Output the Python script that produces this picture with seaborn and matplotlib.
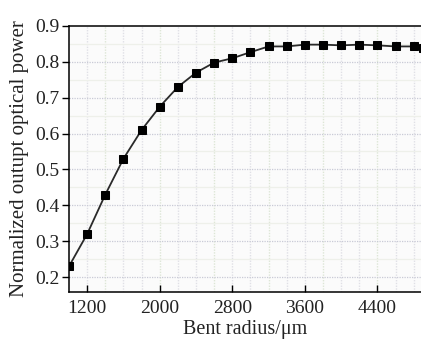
import matplotlib
matplotlib.use("Agg")
import matplotlib.pyplot as plt
import seaborn as sns
import numpy as np
import pandas as pd

radius = [1000, 1200, 1400, 1600, 1800, 2000, 2200, 2400, 2600, 2800, 3000,
          3200, 3400, 3600, 3800, 4000, 4200, 4400, 4600, 4800, 4900]
power = [0.23, 0.32, 0.43, 0.53, 0.61, 0.675, 0.73, 0.77, 0.798, 0.81, 0.827,
         0.843, 0.843, 0.848, 0.848, 0.846, 0.848, 0.846, 0.843, 0.843, 0.84]
xticks = [1200, 2000, 2800, 3600, 4400]
yticks = [0.2, 0.3, 0.4, 0.5, 0.6, 0.7, 0.8, 0.9]

sns.set_style("white")
plt.rcParams['font.family'] = ['Liberation Serif', 'DejaVu Serif']

df = pd.DataFrame({"r": radius, "p": power})

fig = plt.figure(figsize=(4.21, 3.42), dpi=100)
fig.patch.set_facecolor("white")
ax = fig.add_axes([0.164, 0.146, 0.836, 0.778])
ax.set_facecolor("#fbfbfb")

xmin, xmax = 1000, 4880
ymin, ymax = 0.158, 0.9

# faint grid
for i, gx in enumerate(np.arange(1200, 4900, 200)):
    col = "#dde6d6" if i % 3 == 1 else "#e0e0e6"
    ax.axvline(gx, color=col, lw=1.0, ls=(0, (1, 1)), zorder=0)
for gy in np.arange(0.25, 0.9, 0.1):
    ax.axhline(gy, color="#eef0ea", lw=0.9, zorder=0)
for gy in yticks[:-1]:
    ax.axhline(gy, color="#c9cad6", lw=0.9, ls=(0, (1, 1)), zorder=0)

sns.lineplot(data=df, x="r", y="p", ax=ax, color="#2a2a2a", lw=1.3,
             marker="s", markersize=6, markeredgecolor="black",
             markerfacecolor="black", clip_on=True)

ax.set_xlim(xmin, xmax)
ax.set_ylim(ymin, ymax)
ax.set_xticks(xticks)
ax.set_xticklabels([str(t) for t in xticks])
ax.set_yticks(yticks)
ax.set_yticklabels([f"{t:.1f}" for t in yticks])

for s in ["left", "top", "bottom"]:
    ax.spines[s].set_visible(True)
    ax.spines[s].set_color("black")
    ax.spines[s].set_linewidth(1.1)
ax.spines["right"].set_visible(False)

ax.tick_params(axis="x", direction="in", length=5, width=1, labelsize=14,
               pad=6, bottom=True, colors="black")
ax.tick_params(axis="y", direction="out", length=5, width=1, labelsize=14,
               pad=2, left=True, colors="black")
for lab in ax.get_xticklabels() + ax.get_yticklabels():
    lab.set_color("#222222")

ax.set_xlabel("Bent radius/μm", fontsize=14.5, color="#222222", labelpad=2)
ax.set_ylabel("Normalized outupt optical power", fontsize=15, color="#222222",
              labelpad=4)

fig.savefig("out.png", dpi=100)
